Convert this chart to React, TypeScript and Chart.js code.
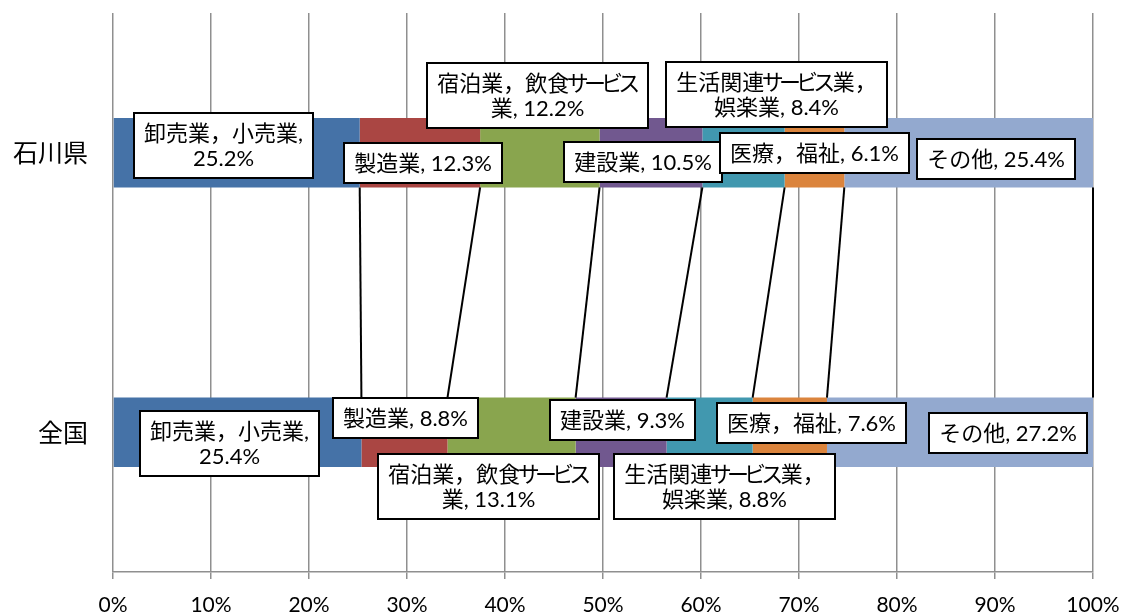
import React, { useEffect, useRef } from "react";
import { Chart, registerables } from "chart.js";

Chart.register(...registerables);

// ---- data ----
const categories = ["石川県", "全国"];
const seriesNames = [
  "卸売業，小売業",
  "製造業",
  "宿泊業，飲食サービス業",
  "建設業",
  "生活関連サービス業，娯楽業",
  "医療，福祉",
  "その他",
];
const ishikawaValues = [25.2, 12.3, 12.2, 10.5, 8.4, 6.1, 25.4];
const nationalValues = [25.4, 8.8, 13.1, 9.3, 8.8, 7.6, 27.2];
const xTickValues = [0, 10, 20, 30, 40, 50, 60, 70, 80, 90, 100];

// ---- styles / layout (not data) ----
const seriesColors = ["#4572A7", "#AA4643", "#89A54E", "#71588F", "#4198AF", "#DB843D", "#93A9CF"];
// label offsets (px) from the centre of each bar segment
const ishikawaLabelOffsets = [
  [-13, -7.5], [3, 10], [-2, -57.5], [-7.5, 9.5], [33, -58], [0.5, 0.5], [27, 6],
];
const nationalLabelOffsets = [
  [-8, 11], [1, -14], [-23, 54], [1.5, -12.5], [14.5, 54], [22, -9.5], [48.5, 0.5],
];
// character index where a label wraps onto a second line (0 = single line)
const labelBreaks = [8, 0, 10, 0, 10, 0, 0];

const GRID = "#8f8f8f";
const FONT_SIZE = 22;
const LABEL_FONT = `${FONT_SIZE}px Lato, "Noto Sans CJK JP", sans-serif`;
const KANA_ADVANCE = 0.78; // proportional katakana width (em)
const LINE_H = 25.5;
const PAD_X = 10;
const PAD_Y = 7;

const valueSets = [ishikawaValues, nationalValues];
const normalized = valueSets.map((vals) => {
  const total = vals.reduce((a, b) => a + b, 0);
  return vals.map((v) => (v / total) * 100);
});

const zeroPadding = (s: any) => {
  s.paddingTop = 0;
  s.paddingBottom = 0;
  s.paddingLeft = 0;
  s.paddingRight = 0;
};

const isKana = (c: string) => /[\u30A0-\u30FF]/.test(c);

// split into runs: katakana characters individually, other text grouped
function runs(ctx: CanvasRenderingContext2D, line: string) {
  const out: { t: string; w: number; kana: boolean }[] = [];
  let buf = "";
  const flush = () => {
    if (buf) out.push({ t: buf, w: ctx.measureText(buf).width, kana: false });
    buf = "";
  };
  for (const c of Array.from(line)) {
    if (isKana(c)) {
      flush();
      out.push({ t: c, w: KANA_ADVANCE * FONT_SIZE, kana: true });
    } else buf += c;
  }
  flush();
  return out;
}

const lineWidth = (ctx: CanvasRenderingContext2D, line: string) =>
  runs(ctx, line).reduce((a, r) => a + r.w, 0);

function drawLine(ctx: CanvasRenderingContext2D, line: string, cx: number, y: number) {
  const rs = runs(ctx, line);
  const total = rs.reduce((a, r) => a + r.w, 0);
  let x = cx - total / 2;
  for (const r of rs) {
    if (r.kana) {
      ctx.textAlign = "center";
      ctx.fillText(r.t, x + r.w / 2, y);
    } else {
      ctx.textAlign = "left";
      ctx.fillText(r.t, x, y);
    }
    x += r.w;
  }
}

const seriesLinesPlugin = {
  id: "seriesLines",
  afterDatasetsDraw(chart: any) {
    const ctx = chart.ctx;
    ctx.save();
    ctx.strokeStyle = "#000";
    ctx.lineWidth = 2;
    chart.data.datasets.forEach((_: any, i: number) => {
      const meta = chart.getDatasetMeta(i);
      const a = meta.data[0];
      const b = meta.data[1];
      if (!a || !b) return;
      ctx.beginPath();
      ctx.moveTo(a.x, a.y + a.height / 2);
      ctx.lineTo(b.x, b.y - b.height / 2);
      ctx.stroke();
    });
    ctx.restore();
  },
};

const labelsPlugin = {
  id: "boxLabels",
  afterDraw(chart: any) {
    const ctx = chart.ctx;
    ctx.save();
    ctx.font = LABEL_FONT;
    chart.data.datasets.forEach((_: any, i: number) => {
      const meta = chart.getDatasetMeta(i);
      [0, 1].forEach((j) => {
        const el = meta.data[j];
        if (!el) return;
        const raw = valueSets[j][i];
        const text = `${seriesNames[i]}, ${raw.toFixed(1)}%`;
        const br = labelBreaks[i];
        const lines = br > 0 ? [text.slice(0, br), text.slice(br).trim()] : [text];
        const off = (j === 0 ? ishikawaLabelOffsets : nationalLabelOffsets)[i];
        const cx = (el.x + el.base) / 2 + off[0];
        const cy = el.y + off[1];
        const w = Math.round(Math.max(...lines.map((l) => lineWidth(ctx, l))) + PAD_X * 2);
        const h = Math.round(lines.length * LINE_H + PAD_Y * 2);
        const left = Math.round(cx - w / 2);
        const top = Math.round(cy - h / 2);
        ctx.fillStyle = "#fff";
        ctx.fillRect(left, top, w, h);
        ctx.strokeStyle = "#000";
        ctx.lineWidth = 2;
        ctx.strokeRect(left, top, w, h);
        ctx.fillStyle = "#000";
        ctx.textBaseline = "middle";
        lines.forEach((l, k) => {
          drawLine(ctx, l, left + w / 2, top + PAD_Y + LINE_H * (k + 0.5) + 1);
        });
      });
    });
    ctx.restore();
  },
};

export default function App() {
  const ref = useRef<HTMLCanvasElement | null>(null);
  useEffect(() => {
    if (!ref.current) return;
    const chart = new Chart(ref.current, {
      type: "bar",
      data: {
        labels: categories,
        datasets: seriesNames.map((name, i) => ({
          label: name,
          data: [normalized[0][i], normalized[1][i]],
          backgroundColor: seriesColors[i],
          borderWidth: 0,
          barPercentage: 1,
          categoryPercentage: 0.248,
        })),
      },
      options: {
        indexAxis: "y",
        animation: false,
        responsive: false,
        maintainAspectRatio: false,
        layout: { padding: { top: 13, right: 34, left: 0, bottom: 0 } },
        plugins: { legend: { display: false }, tooltip: { enabled: false } },
        scales: {
          x: {
            stacked: true,
            min: 0,
            max: 100,
            afterBuildTicks: (s: any) => {
              s.ticks = xTickValues.map((v) => ({ value: v }));
            },
            ticks: {
              callback: (v: any) => `${v}%`,
              color: "#000",
              font: { family: "Lato", size: 21 },
              padding: 14,
              maxRotation: 0,
            },
            grid: { color: GRID, lineWidth: 1.5, tickLength: 7, drawTicks: true },
            border: { color: GRID, width: 1.5 },
            afterFit: (s: any) => {
              s.height = 44;
              zeroPadding(s);
            },
          },
          y: {
            stacked: true,
            ticks: {
              color: "#000",
              font: { family: "Noto Sans CJK JP", size: 25 },
              padding: 25,
            },
            grid: { display: false, drawTicks: false },
            border: { display: false },
            afterFit: (s: any) => {
              s.width = 113;
              zeroPadding(s);
            },
          },
        },
      },
      plugins: [seriesLinesPlugin, labelsPlugin],
    } as any);
    return () => chart.destroy();
  }, []);
  return (
    <div style={{ position: "fixed", left: 0, top: 0, width: 1127, height: 616, background: "#fff" }}>
      <canvas ref={ref} width={1127} height={616} style={{ width: 1127, height: 616 }} />
    </div>
  );
}
